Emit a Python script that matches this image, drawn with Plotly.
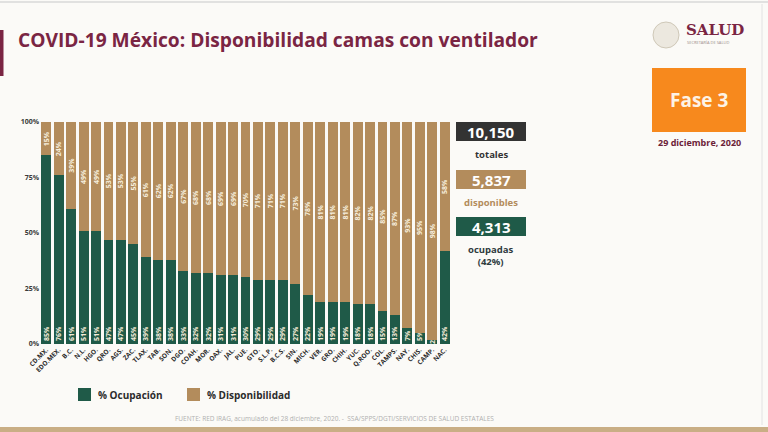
import plotly.graph_objects as go

estados = ["CD.MX.", "EDO.MEX.", "B.C.", "N.L.", "HGO.", "QRO.", "AGS.", "ZAC.", "TLAX.", "TAB.",
           "SON.", "DGO.", "COAH.", "MOR.", "OAX.", "JAL.", "PUE.", "GTO.", "S.L.P.", "B.C.S.",
           "SIN.", "MICH.", "VER.", "GRO.", "CHIH.", "YUC.", "Q.ROO.", "COL.", "TAMPS.", "NAY.",
           "CHIS.", "CAMP.", "NAC."]
ocupacion = [85, 76, 61, 51, 51, 47, 47, 45, 39, 38, 38, 33, 32, 32, 31, 31, 30, 29, 29, 29,
             27, 22, 19, 19, 19, 18, 18, 15, 13, 7, 5, 2, 42]
disponibilidad = [15, 24, 39, 49, 49, 53, 53, 55, 61, 62, 62, 67, 68, 68, 69, 69, 70, 71, 71, 71,
                  73, 78, 81, 81, 81, 82, 82, 85, 87, 93, 95, 98, 58]
y_ticks = [0, 25, 50, 75, 100]
totales = "10,150"
disponibles = "5,837"
ocupadas = "4,313"
ocupadas_pct = "(42%)"

W, H = 768, 432
GREEN = "#1f5a48"
TAN = "#b38c5c"
MAROON = "#7a2543"
FONT = "Open Sans"

def px(x):
    return x / W

def py(y):
    return 1 - y / H

fig = go.Figure()
fig.add_trace(go.Bar(
    x=estados, y=ocupacion, name="% Ocupación", marker_color=GREEN,
    text=[f"<b>{v}%</b>" for v in ocupacion], textposition="inside", insidetextanchor="start",
    textangle=-90, textfont=dict(color="#f3ead8", size=7, family=FONT),
    marker_line_width=0,
))
fig.add_trace(go.Bar(
    x=estados, y=disponibilidad, name="% Disponibilidad", marker_color=TAN,
    text=[f"<b>{v}%</b>" for v in disponibilidad], textposition="inside", insidetextanchor="middle",
    textangle=-90, textfont=dict(color="#f6eedc", size=7, family=FONT),
    marker_line_width=0,
))

shapes = []
annotations = []

# top grey line, left accent bar, bottom strip
shapes.append(dict(type="line", xref="paper", yref="paper", x0=0, x1=1, y0=py(2), y1=py(2),
                   line=dict(color="#d8d8d8", width=1.5)))
shapes.append(dict(type="rect", xref="paper", yref="paper", x0=0, x1=px(3.5), y0=py(76), y1=py(30),
                   fillcolor=MAROON, line_width=0))
shapes.append(dict(type="rect", xref="paper", yref="paper", x0=0, x1=1, y0=0, y1=py(427),
                   fillcolor="#c9ae85", line_width=0))
shapes.append(dict(type="line", xref="paper", yref="paper", x0=px(762), x1=px(762), y0=py(4), y1=py(425),
                   line=dict(color="#e2e2e2", width=1)))

# title
annotations.append(dict(text="<b>COVID-19 México: Disponibilidad camas con ventilador</b>",
                        xref="paper", yref="paper", x=px(16), y=py(40), xanchor="left", yanchor="middle",
                        showarrow=False, font=dict(family=FONT, size=19.2, color=MAROON)))

# logo
shapes.append(dict(type="circle", xref="paper", yref="paper", x0=px(653), x1=px(679), y0=py(48), y1=py(22),
                   fillcolor="#ece8df", line=dict(color="#cfc8b8", width=1)))
annotations.append(dict(text="<b>SALUD</b>", xref="paper", yref="paper", x=px(684), y=py(30),
                        xanchor="left", yanchor="middle", showarrow=False,
                        font=dict(family="DejaVu Serif", size=15, color=MAROON)))
annotations.append(dict(text="SECRETARÍA DE SALUD", xref="paper", yref="paper", x=px(685), y=py(43),
                        xanchor="left", yanchor="middle", showarrow=False,
                        font=dict(family=FONT, size=4, color="#9a8a8a")))

# Fase 3 box
shapes.append(dict(type="rect", xref="paper", yref="paper", x0=px(652), x1=px(746), y0=py(132), y1=py(68),
                   fillcolor="#f7891d", line_width=0))
annotations.append(dict(text="<b>Fase 3</b>", xref="paper", yref="paper", x=px(699), y=py(100),
                        xanchor="center", yanchor="middle", showarrow=False,
                        font=dict(family=FONT, size=19, color="#fdf3e6")))
annotations.append(dict(text="<b>29 diciembre, 2020</b>", xref="paper", yref="paper", x=px(699), y=py(142),
                        xanchor="center", yanchor="middle", showarrow=False,
                        font=dict(family=FONT, size=9, color="#6b2238")))

# right summary boxes
boxes = [
    (totales, "totales", "#333333", "#333333", 122),
    (disponibles, "disponibles", TAN, TAN, 170),
    (ocupadas, "ocupadas<br>" + ocupadas_pct, GREEN, "#2f3b3f", 217),
]
for num, lab, col, labcol, top in boxes:
    shapes.append(dict(type="rect", xref="paper", yref="paper", x0=px(456), x1=px(526),
                       y0=py(top + 19), y1=py(top), fillcolor=col, line_width=0, layer="above"))
    annotations.append(dict(text=f"<b>{num}</b>", xref="paper", yref="paper", x=px(491), y=py(top + 9.5),
                            xanchor="center", yanchor="middle", showarrow=False,
                            font=dict(family=FONT, size=15, color="#ffffff")))
    annotations.append(dict(text=f"<b>{lab}</b>", xref="paper", yref="paper", x=px(491), y=py(top + 24),
                            xanchor="center", yanchor="top", showarrow=False,
                            font=dict(family=FONT, size=9.5, color=labcol)))

# legend
for x0, col, lab in [(78, GREEN, "% Ocupación"), (187, TAN, "% Disponibilidad")]:
    shapes.append(dict(type="rect", xref="paper", yref="paper", x0=px(x0), x1=px(x0 + 13),
                       y0=py(401), y1=py(388), fillcolor=col, line_width=0))
    annotations.append(dict(text=f"<b>{lab}</b>", xref="paper", yref="paper", x=px(x0 + 18), y=py(395),
                            xanchor="left", yanchor="middle", showarrow=False,
                            font=dict(family=FONT, size=10, color="#2b2b2b")))

annotations.append(dict(text="FUENTE: RED IRAG, acumulado del 28 diciembre, 2020. -  SSA/SPPS/DGTI/SERVICIOS DE SALUD ESTATALES",
                        xref="paper", yref="paper", x=px(334), y=py(418), xanchor="center", yanchor="middle",
                        showarrow=False, font=dict(family=FONT, size=6.5, color="#b0b0b0")))

fig.update_layout(
    width=W, height=H,
    barmode="stack", bargap=0.2,
    showlegend=False,
    paper_bgcolor="#fbfaf7", plot_bgcolor="#fbfaf7",
    margin=dict(l=0, r=0, t=0, b=0, pad=0, autoexpand=False),
    shapes=shapes, annotations=annotations,
    uniformtext=dict(minsize=7, mode="show"),
    xaxis=dict(domain=[px(40), px(451)], tickangle=-45, automargin=False,
               tickvals=estados, ticktext=[f"<b>{e}</b>" for e in estados],
               tickfont=dict(family=FONT, size=6.5, color="#2b2b2b"),
               showgrid=False, showline=False, ticks=""),
    yaxis=dict(domain=[py(344), py(122)], range=[0, 100], tickvals=y_ticks, automargin=False,
               ticktext=[f"<b>{v}%</b>" for v in y_ticks],
               tickfont=dict(family=FONT, size=7, color="#3a3a3a"), showgrid=False,
               zeroline=False, ticks=""),
)

fig.write_html("out.html", config={"displayModeBar": False},
               post_script="document.body.style.margin='0';document.body.style.padding='0';")
